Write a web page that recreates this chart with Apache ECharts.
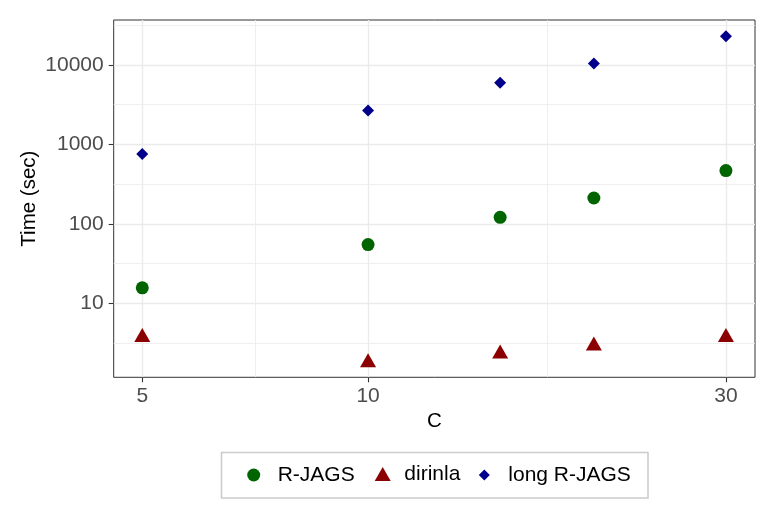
<!DOCTYPE html>
<html>
<head>
<meta charset="utf-8">
<script src="https://cdn.jsdelivr.net/npm/echarts@6/dist/echarts.min.js"></script>
<style>
  html, body { margin: 0; padding: 0; background: #fff; }
  #chart { width: 775px; height: 517px; }
</style>
</head>
<body>
<div id="chart"></div>
<script>
// values
const cValues = [5, 10, 15, 20, 30];
const rJags = [15.7, 55, 121, 212, 469];
const dirinla = [3.75, 1.8, 2.32, 2.92, 3.75];
const longRJags = [757, 2680, 5975, 10440, 23000];

const xTicks = [5, 10, 30];
const yTicks = [10, 100, 1000, 10000];
const yMinorTicks = [3.162, 31.62, 316.2, 3162, 31623];

const xRange = [4.58, 32.8];
const yRange = [1.176, 36760];

const log = Math.log10;
// ggplot puts minor lines halfway between majors (in log space)
const xMinorTicks = xTicks.slice(1).map((t, i) => Math.sqrt(t * xTicks[i]));

const font = 'Liberation Sans, Arial, sans-serif';
const gridColor = '#ebebeb';

function toPoints(vals) {
    return cValues.map((c, i) => [log(c), log(vals[i])]);
}

let myChart = echarts.init(document.getElementById('chart'), null, { renderer: 'canvas' });

function axisBase(minMax) {
    return {
        type: 'value',
        min: log(minMax[0]),
        max: log(minMax[1]),
        axisLine: { show: false }
    };
}

let legendCommon = {
    orient: 'horizontal',
    padding: 0,
    selectedMode: false,
    textStyle: { fontSize: 21, fontFamily: font, color: '#000' }
};

myChart.setOption({
    animation: false,
    backgroundColor: '#fff',
    grid: {
        left: 113.7, right: 20, top: 20, bottom: 139.7,
        outerBoundsMode: 'none',
        show: true,
        borderColor: '#333333',
        borderWidth: 1,
        backgroundColor: 'transparent'
    },
    xAxis: [
        Object.assign(axisBase(xRange), {
            name: 'C',
            nameLocation: 'middle',
            nameGap: 34,
            nameMoveOverlap: false,
            nameTextStyle: { fontSize: 20.5, fontFamily: font, color: '#000' },
            axisTick: { show: true, length: 5, lineStyle: { color: '#333333', width: 1.1 }, customValues: xTicks.map(log) },
            axisLabel: {
                customValues: xTicks.map(log),
                margin: 8,
                fontSize: 21, fontFamily: font, color: '#4d4d4d',
                formatter: v => String(Math.round(Math.pow(10, v)))
            },
            splitLine: { show: true, lineStyle: { color: gridColor, width: 1.4 } },
            z: 2
        }),
        // minor grid lines only
        Object.assign(axisBase(xRange), {
            axisTick: { show: false, customValues: xMinorTicks.map(log) },
            axisLabel: { show: false },
            splitLine: { show: true, lineStyle: { color: gridColor, width: 0.8 } },
            z: 1
        })
    ],
    yAxis: [
        Object.assign(axisBase(yRange), {
            name: 'Time (sec)',
            nameLocation: 'middle',
            nameGap: 74,
            nameMoveOverlap: false,
            nameTextStyle: { fontSize: 20.5, fontFamily: font, color: '#000' },
            axisTick: { show: true, length: 5, lineStyle: { color: '#333333', width: 1.1 }, customValues: yTicks.map(log) },
            axisLabel: {
                customValues: yTicks.map(log),
                margin: 10,
                fontSize: 21, fontFamily: font, color: '#4d4d4d',
                formatter: v => String(Math.round(Math.pow(10, v)))
            },
            splitLine: { show: true, lineStyle: { color: gridColor, width: 1.4 } },
            z: 2
        }),
        Object.assign(axisBase(yRange), {
            axisTick: { show: false, customValues: yMinorTicks.map(log) },
            axisLabel: { show: false },
            splitLine: { show: true, lineStyle: { color: gridColor, width: 0.8 } },
            z: 1
        })
    ],
    legend: [
        Object.assign({}, legendCommon, {
            data: ['R-JAGS'], left: 247.2, top: 464.5,
            itemWidth: 13, itemHeight: 13,
            textStyle: Object.assign({}, legendCommon.textStyle, { padding: [0, 0, 0, 12.5] })
        }),
        Object.assign({}, legendCommon, {
            data: ['dirinla'], left: 374.7, top: 463.5,
            itemWidth: 16, itemHeight: 14,
            textStyle: Object.assign({}, legendCommon.textStyle, { padding: [0, 0, 0, 8.6] })
        }),
        Object.assign({}, legendCommon, {
            data: ['long R-JAGS'], left: 478.8, top: 464.5,
            itemWidth: 11, itemHeight: 11,
            textStyle: Object.assign({}, legendCommon.textStyle, { padding: [0, 0, 0, 13.5] })
        })
    ],
    graphic: [{
        type: 'rect',
        left: 220.7, top: 451.7,
        shape: { width: 426.5, height: 45.5 },
        style: { fill: '#fff', stroke: '#cccccc', lineWidth: 1.6 },
        z: -1
    }],
    series: [{
        name: 'R-JAGS',
        type: 'scatter',
        symbol: 'circle',
        symbolSize: 13,
        itemStyle: { color: '#006400', opacity: 1 },
        data: toPoints(rJags),
        z: 5
    }, {
        name: 'dirinla',
        type: 'scatter',
        symbol: 'triangle',
        symbolSize: [16, 14],
        symbolOffset: [0, -2.3],
        itemStyle: { color: '#8b0000', opacity: 1 },
        data: toPoints(dirinla),
        z: 5
    }, {
        name: 'long R-JAGS',
        type: 'scatter',
        symbol: 'diamond',
        symbolSize: 12,
        itemStyle: { color: '#00008b', opacity: 1 },
        data: toPoints(longRJags),
        z: 5
    }]
})
</script>
</body>
</html>
